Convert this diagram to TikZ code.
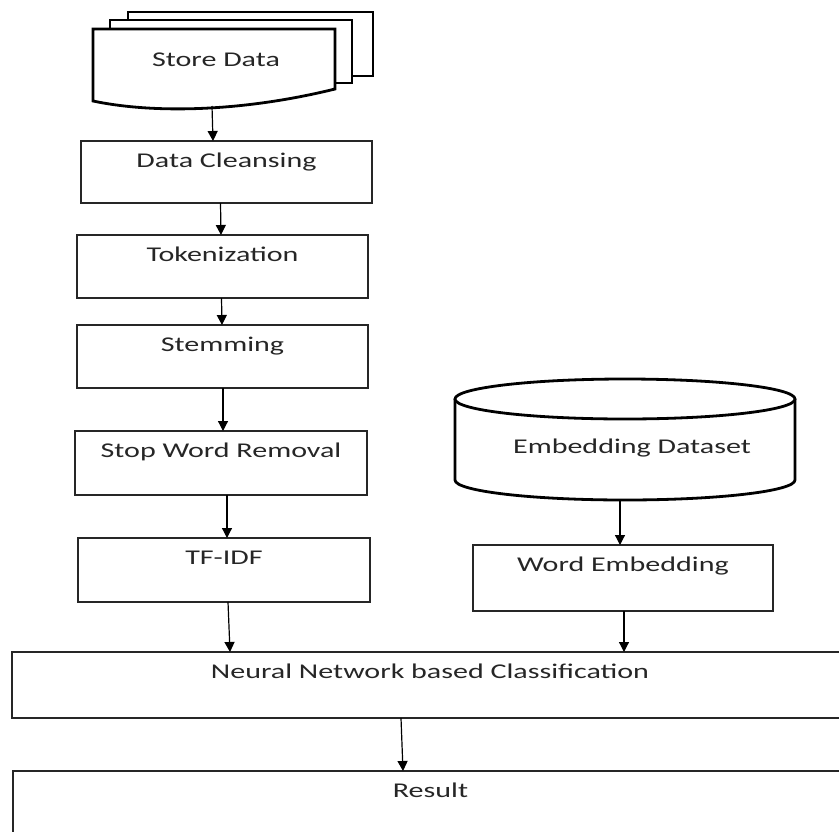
\documentclass[tikz,border=0pt]{standalone}
\usepackage{fontspec}
\setmainfont{Carlito}[FakeStretch=1.43]
\usetikzlibrary{arrows.meta}
\begin{document}
\begin{tikzpicture}[x=1pt,y=-1pt,
  font=\fontsize{21}{25}\selectfont,
  box/.style={draw=black!85, line width=1.2pt, inner sep=0pt, outer sep=0pt, anchor=north west},
  lbl/.style={anchor=base, yshift=-26.5pt, inner sep=0pt, text=black!85},
  txt/.style={anchor=base, inner sep=0pt, text=black!85},
  heavy/.style={draw=black, line width=2.8pt, fill=white, line join=miter},
  arr/.style={draw=black, line width=1.2pt, -{Triangle[width=10pt,length=10pt]}}]
\useasboundingbox (0,0) rectangle (839,831);
\clip (0,0) rectangle (839,831);

% stacked documents
\path[heavy] (128,12) rectangle (373,76);
\path[heavy] (110,20) rectangle (352,83);
\path[heavy] (93,29) -- (335,29) -- (335,89)
  .. controls (250,110) and (160,115) .. (93,101) -- cycle;
\node[txt] (sd) at (216,66.5) {Store Data};
\coordinate (sdb) at (212,106);

% preprocessing chain
\node[box, minimum width=291pt, minimum height=62pt, label={[lbl]north:Data Cleansing}] (dc) at (81,141) {};
\node[box, minimum width=291pt, minimum height=63pt, label={[lbl]north:Tokenization}] (tok) at (77,235) {};
\node[box, minimum width=291pt, minimum height=63pt, label={[lbl]north:Stemming}] (stem) at (77,325) {};
\node[box, minimum width=292pt, minimum height=64pt, label={[lbl]north:Stop Word Removal}] (swr) at (75,431) {};
\node[box, minimum width=292pt, minimum height=64pt, label={[lbl]north:TF-IDF}] (tf) at (78,538) {};

% embedding database
\draw[heavy] (455,399) -- (455,480)
  arc[start angle=180, end angle=360, x radius=170pt, y radius=20pt]
  -- (795,399);
\draw[heavy] (625,399) ellipse [x radius=170pt, y radius=20pt];
\node[txt] (ed) at (632,453.5) {Embedding Dataset};
\coordinate (edb) at (620,500);
\node[box, minimum width=300pt, minimum height=66pt, label={[lbl]north:Word Embedding}] (we) at (473,545) {};

% classifier and output
\node[box, minimum width=836pt, minimum height=66pt, label={[lbl]north:Neural Network based Classification}] (nn) at (12,652) {};
\node[box, minimum width=835pt, minimum height=99pt, label={[lbl]north:Result}] (res) at (13,771) {};

% connectors
\draw[arr] (sdb) -- ([xshift=-13.5pt]dc.north);
\draw[arr] ([xshift=-6pt]dc.south) -- ([xshift=-1.5pt]tok.north);
\draw[arr] ([xshift=-1pt]tok.south) -- ([xshift=-0.5pt]stem.north);
\draw[arr] ([xshift=0.5pt]stem.south) -- ([xshift=2pt]swr.north);
\draw[arr] ([xshift=6pt]swr.south) -- ([xshift=3pt]tf.north);
\draw[arr] ([xshift=4pt]tf.south) -- ([xshift=-200pt]nn.north);
\draw[arr] (edb) -- ([xshift=-3pt]we.north);
\draw[arr] ([xshift=1pt]we.south) -- ([xshift=194pt]nn.north);
\draw[arr] ([xshift=-29pt]nn.south) -- ([xshift=-27.5pt]res.north);
\end{tikzpicture}
\end{document}
